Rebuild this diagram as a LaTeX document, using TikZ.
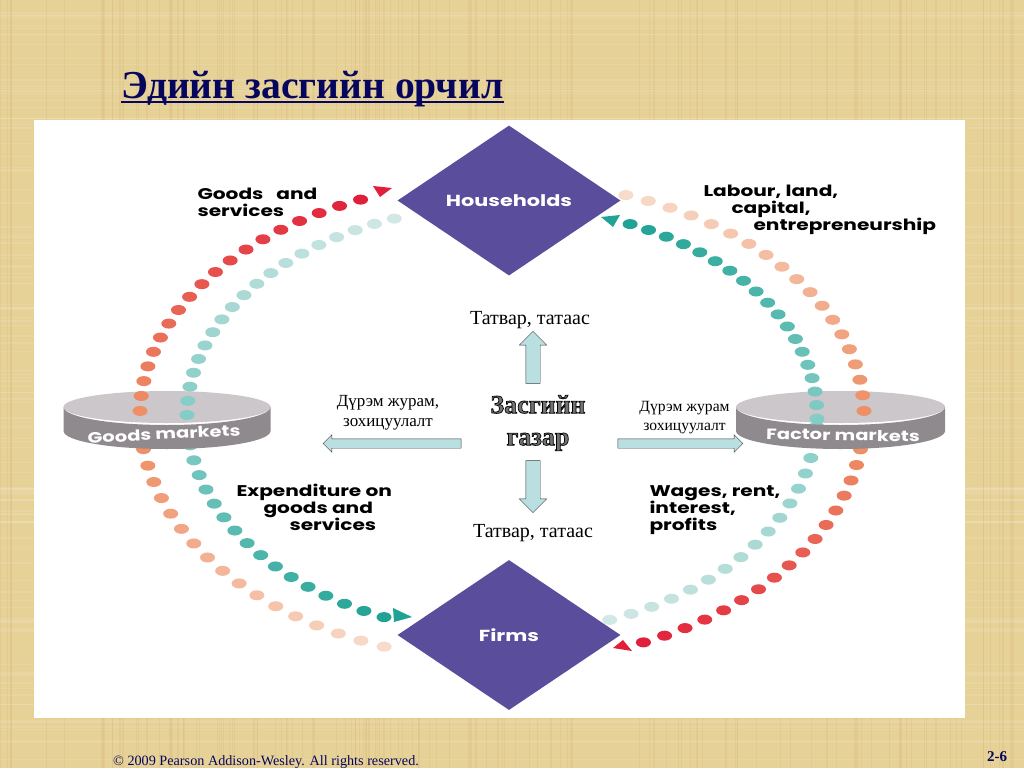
\documentclass[tikz,border=0pt]{standalone}
\usepackage{fontspec}
\setmainfont{Liberation Serif}
\newfontfamily\labelfont{Poppins}[FakeStretch=1.3]
\usetikzlibrary{arrows.meta, positioning, shapes.geometric, shapes.arrows}

\definecolor{paper}{HTML}{E6D197}
\definecolor{navy}{HTML}{06065E}
\definecolor{violet}{HTML}{5A4E9C}
\definecolor{bandgray}{HTML}{8F8A8E}
\definecolor{topgray}{HTML}{CBC7CB}
\definecolor{blockfill}{HTML}{B9DFE0}
\definecolor{redd}{HTML}{E0203A}
\definecolor{orng}{HTML}{EE8F66}
\definecolor{peach}{HTML}{F8DCCB}
\definecolor{teal}{HTML}{20A394}
\definecolor{midteal}{HTML}{84CCC6}
\definecolor{paleteal}{HTML}{D2E8E5}

% start angle, end angle, last index, radii, colours at both ends
\newcommand{\dotarc}[7]{
  \foreach \k [evaluate=\k as \t using #1+(#2-#1)*\k/#3, evaluate=\k as \p using 100*\k/#3] in {0,...,#3}
    \fill[#7!\p!#6] ({502+#4*cos(\t)},{415-#5*sin(\t)}) ellipse (7.5 and 5);
}

\begin{document}
\begin{tikzpicture}[x=1pt, y=-1pt,
  sector/.style={diamond, fill=violet, text=white, inner sep=0pt, minimum width=223pt, minimum height=150pt, font=\labelfont\bfseries\fontsize{16}{16}\selectfont},
  flowlabel/.style={align=left, anchor=west, font=\labelfont\bfseries\fontsize{15.5}{17}\selectfont},
  marketlabel/.style={text=white, font=\labelfont\bfseries\fontsize{15}{15}\selectfont},
  note/.style={align=center, font=\fontsize{17}{20}\selectfont},
  taxnote/.style={font=\fontsize{20}{22}\selectfont},
  block/.style={single arrow, draw=black!75, fill=blockfill, inner sep=7pt, single arrow head extend=6.5pt, single arrow head indent=0pt},
  thinblock/.style={block, inner sep=4.5pt, single arrow head extend=4pt}]
\useasboundingbox (0,0) rectangle (1024,768);

% Paper background
\fill[paper] (0,0) rectangle (1024,768);
\pgfmathsetseed{26}
\foreach \i in {1,...,130} {
  \pgfmathsetmacro{\sx}{rnd*1024}
  \pgfmathsetmacro{\sy}{rnd*768}
  \draw[brown!70!paper, opacity=.12, line width=1.2pt] (\sx,0) -- (\sx,768);
  \draw[white, opacity=.10, line width=1.2pt] (0,\sy) -- (1024,\sy);
}
\fill[white] (34,120) rectangle (965,718);

% Title and footer
\node[anchor=base west, inner sep=0pt, text=navy, font=\bfseries\fontsize{39.6}{44}\selectfont] (title) at (121,98) {Эдийн засгийн орчил};
\draw[navy, line width=2pt] (title.base west)++(0,4) -- ++(383,0);
\node[anchor=base west, inner sep=0pt, text=navy, font=\fontsize{14.2}{16}\selectfont] (rights) at (113,765) {© 2009 Pearson Addison-Wesley. All rights reserved.};
\node[anchor=base west, inner sep=0pt, text=navy, font=\bfseries\fontsize{15}{17}\selectfont] (pagenum) at (987,761) {2-6};

% Tops of the market rings
\fill[topgray] (167,407) ellipse (103.5 and 16);
\fill[topgray] (840.5,407) ellipse (104.5 and 16);

% Dot arcs
\dotarc{179}{113}{18}{362}{234}{orng}{redd}
\dotarc{180}{110}{18}{315}{209}{midteal}{paleteal}
\dotarc{70}{1}{18}{362}{234}{peach}{orng}
\dotarc{66}{-1}{18}{315}{209}{teal}{midteal}
\dotarc{188}{251}{16}{362}{245}{orng}{peach}
\dotarc{184}{248}{16}{315}{218}{midteal}{teal}
\dotarc{-67}{-8}{16}{362}{247}{redd}{orng}
\dotarc{-70}{-3}{16}{315}{218}{paleteal}{midteal}

% Dot arc arrow tips
\fill[redd] (373,186) -- (392,188) -- (380,197) -- cycle;
\fill[teal] (601,217) -- (620,215) -- (613,227) -- cycle;
\fill[teal] (393,608) -- (412,617) -- (394,622) -- cycle;
\fill[redd] (613,648) -- (623,640) -- (632,651) -- cycle;

% Fronts of the market rings
\fill[bandgray] (63.5,407) -- (63.5,431) arc[start angle=180, end angle=0, x radius=103.5, y radius=18] -- (270.5,407) arc[start angle=0, end angle=180, x radius=103.5, y radius=18] -- cycle;
\fill[bandgray] (736,407) -- (736,431) arc[start angle=180, end angle=0, x radius=104.5, y radius=18] -- (945,407) arc[start angle=0, end angle=180, x radius=104.5, y radius=18] -- cycle;
\node[marketlabel, rotate=3] (goods) at (164,434) {Goods markets};
\node[marketlabel, rotate=-1] (factor) at (843,435) {Factor markets};

% Sectors
\node[sector] (households) at (509,200.5) {\raisebox{-2pt}{Households}};
\node[sector] (firms) at (509,635) {\raisebox{-2pt}{Firms}};

% Flow labels
\node[flowlabel] (goodsflow) at (194,202) {Goods\hspace{13pt}and\\services};
\node[flowlabel] (factorflow) at (700,210) {Labour, land,\\\hspace*{28pt}capital,\\\hspace*{50pt}entrepreneurship};
\node[flowlabel] (spending) at (233,507) {Expenditure on\\\hspace*{27pt}goods and\\\hspace*{53pt}services};
\node[flowlabel] (income) at (646,510) {Wages, rent,\\interest,\\profits};

% Government in the middle
\node[align=center, font=\bfseries\fontsize{26}{32}\selectfont] (gov) at (538,423) {\special{pdf:code 2 Tr 0.7 w 0 0 0 RG 0.45 0.45 0.45 rg}Засгийн\\\special{pdf:code 2 Tr 0.7 w 0 0 0 RG 0.45 0.45 0.45 rg}газар\special{pdf:code 0 Tr}};

% Block arrows
\node[block, shape border rotate=90, minimum height=52pt] (taxup) at (533,361) {};
\node[block, shape border rotate=270, minimum height=52pt] (taxdown) at (533,483) {};
\node[thinblock, shape border rotate=180, minimum height=138pt] (ruleleft) at (394.5,443.5) {};
\node[thinblock, minimum height=125pt] (ruleright) at (678,443.5) {};

% Notes on the block arrows
\node[taxnote, above=-1pt of taxup, xshift=-3pt] (taxtop) {Татвар, татаас};
\node[taxnote, below=7.5pt of taxdown] (taxbottom) {Татвар, татаас};
\node[note, above=4.5pt of ruleleft, xshift=-6.5pt] (ruletextl) {Дүрэм журам,\\зохицуулалт};
\node[note, font=\fontsize{15.6}{19}\selectfont, above=1pt of ruleright, xshift=6.5pt] (ruletextr) {Дүрэм журам\\зохицуулалт};

\end{tikzpicture}
\end{document}
